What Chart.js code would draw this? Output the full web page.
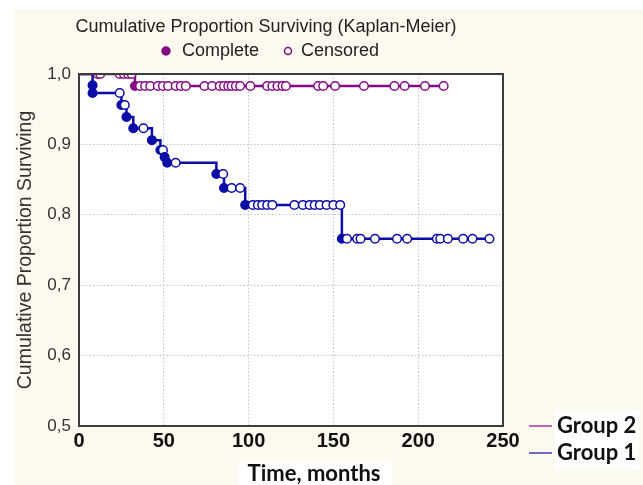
<!DOCTYPE html>
<html>
<head>
<meta charset="utf-8">
<script src="https://cdn.jsdelivr.net/npm/chart.js@4.4.0/dist/chart.umd.min.js"></script>
<style>
  html, body { margin: 0; padding: 0; background: #ffffff; }
</style>
</head>
<body>
<canvas id="kmChart" width="643" height="485"></canvas>
<script>
// Group 2 (purple) - time in months, survival, status (1 = complete, 0 = censored, -1 = start)
var g2Time = [0, 11, 12.5, 24, 26.5, 29, 31, 33, 36, 39, 42, 46.5, 49.5, 52.5, 57, 60, 63, 74,
  78.5, 83, 85.5, 88, 90, 92.5, 95, 101, 111, 114, 117, 120, 122, 141, 144, 151, 168, 186, 192, 204, 215];
var g2Surv = [1, 1, 1, 1, 1, 1, 1, 0.983, 0.983, 0.983, 0.983, 0.983, 0.983, 0.983, 0.983, 0.983, 0.983, 0.983,
  0.983, 0.983, 0.983, 0.983, 0.983, 0.983, 0.983, 0.983, 0.983, 0.983, 0.983, 0.983, 0.983, 0.983, 0.983, 0.983,
  0.983, 0.983, 0.983, 0.983, 0.983];
var g2Status = [-1, 0, 0, 0, 0, 0, 0, 1, 0, 0, 0, 0, 0, 0, 0, 0, 0, 0,
  0, 0, 0, 0, 0, 0, 0, 0, 0, 0, 0, 0, 0, 0, 0, 0, 0, 0, 0, 0, 0];

// Group 1 (blue)
var g1Time = [0, 8, 8, 24, 25, 27, 28, 32, 38, 43, 48, 49.5, 50.5, 52, 57, 81, 85, 85.5, 90, 95,
  98, 102.5, 105.5, 108, 111, 114, 127, 132, 136, 139, 142, 146, 150, 154,
  155, 158, 164, 166, 174.5, 187.5, 193.5, 211, 213, 217.5, 226.5, 232, 242];
var g1Surv = [1, 0.984, 0.973, 0.973, 0.956, 0.956, 0.939, 0.923, 0.923, 0.906, 0.892, 0.892, 0.882, 0.874, 0.874,
  0.858, 0.858, 0.838, 0.838, 0.838,
  0.814, 0.814, 0.814, 0.814, 0.814, 0.814, 0.814, 0.814, 0.814, 0.814, 0.814, 0.814, 0.814, 0.814,
  0.766, 0.766, 0.766, 0.766, 0.766, 0.766, 0.766, 0.766, 0.766, 0.766, 0.766, 0.766, 0.766];
var g1Status = [-1, 1, 1, 0, 1, 0, 1, 1, 0, 1, 1, 0, 1, 1, 0, 1, 0, 1, 0, 0,
  1, 0, 0, 0, 0, 0, 0, 0, 0, 0, 0, 0, 0, 0,
  1, 0, 0, 0, 0, 0, 0, 0, 0, 0, 0, 0, 0];

var xTicks = [0, 50, 100, 150, 200, 250];
var yTicks = [0.5, 0.6, 0.7, 0.8, 0.9, 1.0];

var purple = "#840a84";
var blue = "#0c0ca6";
var cream = "#fef9ef";

function buildSet(label, times, surv, status, color) {
  var pts = times.map(function (t, i) { return { x: t, y: surv[i] }; });
  return {
    label: label,
    data: pts,
    showLine: true,
    stepped: "before",
    borderColor: color,
    borderWidth: 2.5,
    pointRadius: status.map(function (s) { return s < 0 ? 0 : 4.3; }),
    pointBorderWidth: 1.5,
    pointBorderColor: color,
    pointBackgroundColor: status.map(function (s) { return s === 1 ? color : "#ffffff"; }),
  };
}

var decorPlugin = {
  id: "decor",
  beforeDraw: function (chart) {
    var c = chart.ctx, a = chart.chartArea;
    c.save();
    c.fillStyle = "#ffffff";
    c.fillRect(0, 0, chart.width, chart.height);
    c.fillStyle = cream;
    c.fillRect(15, 10, chart.width - 15, chart.height - 10);
    c.fillStyle = "#ffffff";
    c.fillRect(a.left, a.top, a.right - a.left, a.bottom - a.top);
    c.fillRect(238, 461, 154, 24); // box behind axis title
    c.fillRect(555, 411, 84, 58); // box behind group legend
    c.restore();
  },
  afterDraw: function (chart) {
    var c = chart.ctx, a = chart.chartArea;
    c.save();
    // frame
    c.strokeStyle = "#3c3c3c";
    c.lineWidth = 2;
    c.strokeRect(a.left, a.top, a.right - a.left, a.bottom - a.top);

    // title and marker legend
    c.fillStyle = "#222222";
    c.textAlign = "center";
    c.textBaseline = "middle";
    c.font = "18px 'Liberation Sans', Arial, sans-serif";
    c.fillText("Cumulative Proportion Surviving (Kaplan-Meier)", 266, 27);
    c.textAlign = "left";
    c.font = "18px 'Liberation Sans', Arial, sans-serif";
    c.fillText("Complete", 182, 51);
    c.fillText("Censored", 301, 51);
    c.lineWidth = 1.5;
    c.strokeStyle = purple;
    c.fillStyle = purple;
    c.beginPath(); c.arc(166, 51, 4, 0, Math.PI * 2); c.fill(); c.stroke();
    c.fillStyle = "#ffffff";
    c.beginPath(); c.arc(288, 51, 3.5, 0, Math.PI * 2); c.fill(); c.stroke();

    // x axis title
    c.fillStyle = "#111111";
    c.textAlign = "center";
    c.font = "bold 22px Lato, 'Liberation Sans', sans-serif";
    c.fillText("Time, months", 314, 474);

    // group legend
    c.textAlign = "left";
    c.font = "bold 22px Lato, 'Liberation Sans', sans-serif";
    c.fillText("Group 2", 557, 426);
    c.fillText("Group 1", 557, 453);
    c.lineWidth = 1.2;
    c.strokeStyle = purple;
    c.beginPath(); c.moveTo(529, 426); c.lineTo(552, 426); c.stroke();
    c.strokeStyle = blue;
    c.beginPath(); c.moveTo(529, 453); c.lineTo(552, 453); c.stroke();
    c.restore();
  },
};

var ctx = document.getElementById("kmChart").getContext("2d");

var kmChart = new Chart(ctx, {
  type: "scatter",
  data: {
    datasets: [
      buildSet("Group 2", g2Time, g2Surv, g2Status, purple),
      buildSet("Group 1", g1Time, g1Surv, g1Status, blue),
    ],
  },
  options: {
    responsive: false,
    animation: false,
    layout: { padding: { left: 0, top: 74, right: 140, bottom: 0 } },
    scales: {
      x: {
        type: "linear",
        min: 0,
        max: 250,
        afterBuildTicks: function (s) { s.ticks = xTicks.map(function (v) { return { value: v }; }); },
        afterFit: function (s) { s.height = 59; },
        ticks: {
          color: "#111111",
          font: { family: "'Liberation Sans', Arial, sans-serif", size: 20, weight: "bold" },
          padding: 3,
          maxRotation: 0,
        },
        grid: {
          color: function (c) { return (c.tick.value === 0 || c.tick.value === 250) ? "rgba(0,0,0,0)" : "#c4c4c4"; },
          drawTicks: false,
        },
        border: { display: false, dash: [1.5, 2] },
      },
      y: {
        min: 0.5,
        max: 1.0,
        afterBuildTicks: function (s) { s.ticks = yTicks.map(function (v) { return { value: v }; }); },
        afterFit: function (s) { s.width = 79; },
        ticks: {
          color: "#333333",
          font: { family: "'Liberation Sans', Arial, sans-serif", size: 17 },
          padding: 8,
          callback: function (v) { return v.toFixed(1).replace(".", ","); },
        },
        grid: {
          color: function (c) { return (c.tick.value === 0.5 || c.tick.value === 1) ? "rgba(0,0,0,0)" : "#c4c4c4"; },
          drawTicks: false,
        },
        border: { display: false, dash: [1.5, 2] },
        title: {
          display: true,
          text: "Cumulative Proportion Surviving",
          color: "#333333",
          font: { family: "'Liberation Sans', Arial, sans-serif", size: 19.5 },
          padding: { top: 14, bottom: 0 },
        },
      },
    },
    plugins: {
      legend: { display: false },
      tooltip: { enabled: false },
    },
  },
  plugins: [decorPlugin],
});
</script>
</body>
</html>
